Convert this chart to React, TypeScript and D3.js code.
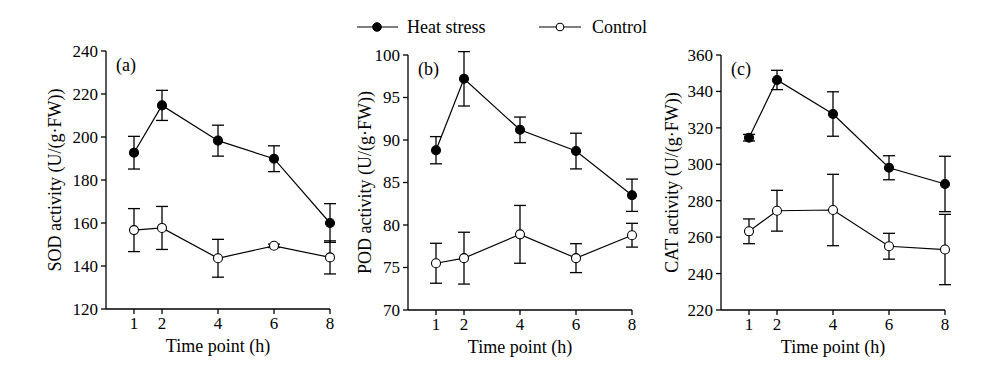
import React from 'react';
import * as d3 from 'd3';

const timePoints = [1, 2, 4, 6, 8];

const sodHeat = [192.7, 214.7, 198.3, 189.9, 160];
const sodHeatErr = [7.6, 7, 7.2, 6, 9];
const sodCtrl = [156.7, 157.7, 143.6, 149.4, 144];
const sodCtrlErr = [10, 10, 8.8, 0.8, 7.7];

const podHeat = [88.8, 97.2, 91.2, 88.7, 83.5];
const podHeatErr = [1.6, 3.2, 1.5, 2.1, 1.9];
const podCtrl = [75.5, 76.1, 78.9, 76.1, 78.8];
const podCtrlErr = [2.35, 3.05, 3.4, 1.7, 1.4];

const catHeat = [314.6, 346.3, 327.6, 298.1, 289.2];
const catHeatErr = [1.8, 5.3, 12.2, 6.6, 15.2];
const catCtrl = [263.2, 274.5, 274.9, 255.0, 253.2];
const catCtrlErr = [6.8, 11.2, 19.6, 7.1, 19.3];

const sodTicks = [120, 140, 160, 180, 200, 220, 240];
const podTicks = [70, 75, 80, 85, 90, 95, 100];
const catTicks = [220, 240, 260, 280, 300, 320, 340, 360];

const FONT = '"Liberation Serif", "Times New Roman", serif';

interface PanelProps {
  left: number;
  top: number;
  bottom: number;
  titleOffset: number;
  label: string;
  yTitle: string;
  yTicks: number[];
  heat: number[];
  heatErr: number[];
  ctrl: number[];
  ctrlErr: number[];
}

const Panel: React.FC<PanelProps> = ({ left, top, bottom, titleOffset, label, yTitle, yTicks, heat, heatErr, ctrl, ctrlErr }) => {
  const x = d3.scaleLinear().domain([0, 8]).range([left, left + 28 * 8]);
  const y = d3.scaleLinear()
    .domain([yTicks[0], yTicks[yTicks.length - 1]])
    .range([bottom, top]);

  const line = d3.line<number>()
    .x((_, i) => x(timePoints[i]))
    .y(d => y(d));

  const series = [
    { vals: ctrl, errs: ctrlErr, fill: '#fff' },
    { vals: heat, errs: heatErr, fill: '#000' },
  ];
  const cap = 6;

  return (
    <g>
      {/* axes */}
      <line x1={x(0)} x2={x(0)} y1={y.range()[0]} y2={y.range()[1]} stroke="#000" strokeWidth={1.3} />
      <line x1={x(0)} x2={x(8)} y1={bottom} y2={bottom} stroke="#000" strokeWidth={1.3} />
      {yTicks.map(t => (
        <g key={t}>
          <line x1={x(0) - 5} x2={x(0)} y1={y(t)} y2={y(t)} stroke="#000" strokeWidth={1.3} />
          <text x={x(0) - 8} y={y(t)} dy="0.35em" textAnchor="end" fontSize={17}>{t}</text>
        </g>
      ))}
      {timePoints.map(t => (
        <g key={t}>
          <line x1={x(t)} x2={x(t)} y1={bottom} y2={bottom + 5} stroke="#000" strokeWidth={1.3} />
          <text x={x(t)} y={bottom + 20} textAnchor="middle" fontSize={17}>{t}</text>
        </g>
      ))}
      <text x={x(4)} y={bottom + 43} textAnchor="middle" fontSize={18}>Time point (h)</text>
      <text
        transform={`translate(${x(0) - titleOffset},${(top + bottom) / 2}) rotate(-90)`}
        dy="0.35em"
        textAnchor="middle"
        fontSize={18}
      >{yTitle}</text>
      <text x={x(0) + 10} y={top + 20} fontSize={18}>{label}</text>

      {/* error bars */}
      {series.map((s, si) => s.vals.map((v, i) => {
        const cx = x(timePoints[i]);
        const y1 = y(v + s.errs[i]);
        const y2 = y(v - s.errs[i]);
        return (
          <g key={`e${si}-${i}`} stroke="#000" strokeWidth={1.3}>
            <line x1={cx} x2={cx} y1={y1} y2={y2} />
            <line x1={cx - cap} x2={cx + cap} y1={y1} y2={y1} />
            <line x1={cx - cap} x2={cx + cap} y1={y2} y2={y2} />
          </g>
        );
      }))}

      {/* lines and markers */}
      {series.map((s, si) => (
        <g key={`s${si}`}>
          <path d={line(s.vals) || ''} fill="none" stroke="#000" strokeWidth={1.2} />
          {s.vals.map((v, i) => (
            <circle key={i} cx={x(timePoints[i])} cy={y(v)} r={4.5} fill={s.fill} stroke="#000" strokeWidth={1.1} />
          ))}
        </g>
      ))}
    </g>
  );
};

export default function App() {
  return (
    <svg width={990} height={369} fontFamily={FONT}
      style={{ position: 'absolute', left: 0, top: 0, background: '#fff', fontFamily: FONT }}>
      {/* legend */}
      <g>
        <line x1={357} x2={398} y1={27} y2={27} stroke="#000" strokeWidth={1.2} />
        <circle cx={377} cy={27} r={4.3} fill="#000" stroke="#000" />
        <text x={407} y={27} dy="0.35em" fontSize={18}>Heat stress</text>
        <line x1={539} x2={581} y1={27} y2={27} stroke="#000" strokeWidth={1.2} />
        <circle cx={560} cy={27} r={3.8} fill="#fff" stroke="#000" strokeWidth={1.1} />
        <text x={592} y={27} dy="0.35em" fontSize={18}>Control</text>
      </g>
      <Panel left={106} top={51} bottom={309} titleOffset={51} label="(a)" yTitle="SOD activity (U/(g·FW))" yTicks={sodTicks}
        heat={sodHeat} heatErr={sodHeatErr} ctrl={sodCtrl} ctrlErr={sodCtrlErr} />
      <Panel left={408} top={55} bottom={310} titleOffset={43} label="(b)" yTitle="POD activity (U/(g·FW))" yTicks={podTicks}
        heat={podHeat} heatErr={podHeatErr} ctrl={podCtrl} ctrlErr={podCtrlErr} />
      <Panel left={721} top={55} bottom={310} titleOffset={49} label="(c)" yTitle="CAT activity (U/(g·FW))" yTicks={catTicks}
        heat={catHeat} heatErr={catHeatErr} ctrl={catCtrl} ctrlErr={catCtrlErr} />
    </svg>
  );
}
